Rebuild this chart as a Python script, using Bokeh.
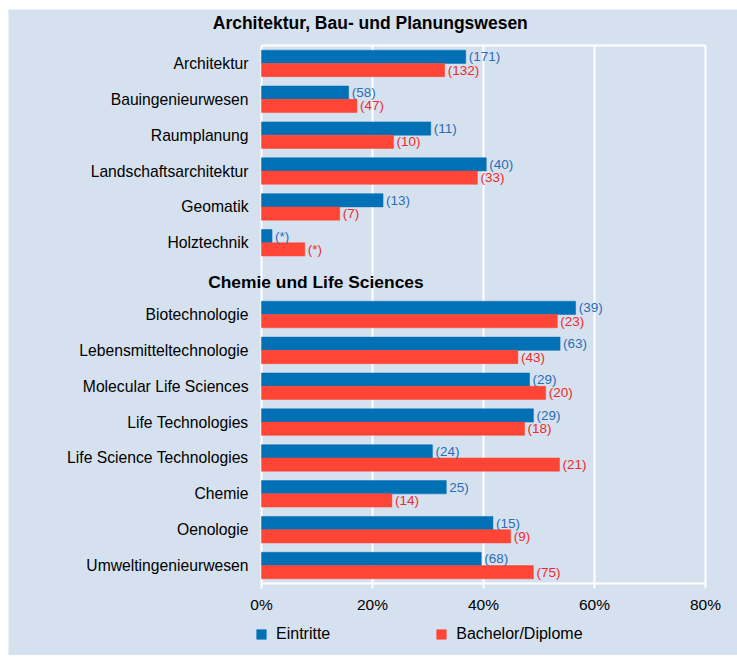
from bokeh.plotting import figure
from bokeh.layouts import row, column, Spacer
from bokeh.models import (ColumnDataSource, Range1d, FixedTicker, PrintfTickFormatter,
                          Label, Legend, LegendItem)
from bokeh.core.properties import value
from bokeh.embed import file_html
from bokeh.resources import INLINE

# ---------------- data ----------------
section_titles = ["Architektur, Bau- und Planungswesen", "Chemie und Life Sciences"]

categories_a = ["Architektur", "Bauingenieurwesen", "Raumplanung",
                "Landschaftsarchitektur", "Geomatik", "Holztechnik"]
categories_b = ["Biotechnologie", "Lebensmitteltechnologie", "Molecular Life Sciences",
                "Life Technologies", "Life Science Technologies", "Chemie",
                "Oenologie", "Umweltingenieurwesen"]

eintritte_a = [36.8, 15.7, 30.5, 40.5, 21.9, 1.9]
bachelor_a = [33.0, 17.2, 23.8, 38.9, 14.1, 7.8]
eintritte_b = [56.6, 53.8, 48.3, 49.0, 30.8, 33.3, 41.7, 39.6]
bachelor_b = [53.3, 46.2, 51.2, 47.4, 53.7, 23.5, 44.9, 49.0]

labels_eintritte_a = ["(171)", "(58)", "(11)", "(40)", "(13)", "(*)"]
labels_bachelor_a = ["(132)", "(47)", "(10)", "(33)", "(7)", "(*)"]
labels_eintritte_b = ["(39)", "(63)", "(29)", "(29)", "(24)", "25)", "(15)", "(68)"]
labels_bachelor_b = ["(23)", "(43)", "(20)", "(18)", "(21)", "(14)", "(9)", "(75)"]

x_ticks = [0, 20, 40, 60, 80]
series_names = ["Eintritte", "Bachelor/Diplome"]

# ---------------- styling ----------------
BG = "#d6e1ef"
BLUE = "#0170b5"
RED = "#ff4536"
BLUE_TXT = "#2a6db5"
RED_TXT = "#ee2a2a"
FONT = "Liberation Sans"

W = 729
H = 646
PLOT_LEFT = 253          # px from canvas left where 0 % sits
PLOT_TOP = 36            # px from canvas top where first slot starts
PLOT_W = 444             # px for 0..80 %
PLOT_H = 538             # px for all slots

# slot layout: section A rows, one header slot, section B rows
n_a = len(categories_a)
n_b = len(categories_b)
ys_a = [i + 0.5 for i in range(n_a)]
header_slot = n_a + 0.5
ys_b = [n_a + 1 + i + 0.5 for i in range(n_b)]
n_slots = n_a + 1 + n_b

categories = categories_a + categories_b
ys = ys_a + ys_b
eintritte = eintritte_a + eintritte_b
bachelor = bachelor_a + bachelor_b
lab_e = labels_eintritte_a + labels_eintritte_b
lab_b = labels_bachelor_a + labels_bachelor_b

xmin, xmax = x_ticks[0], x_ticks[-1]
ppx = PLOT_W / (xmax - xmin)
ppy = PLOT_H / n_slots
x_lo = xmin - PLOT_LEFT / ppx
x_hi = xmin + (W - PLOT_LEFT) / ppx
y_top = -PLOT_TOP / ppy
y_bottom = n_slots + (H - PLOT_TOP - PLOT_H) / ppy

BAR_H = 0.37
OFF = 0.185

src_e = ColumnDataSource(dict(y=[y - OFF for y in ys], right=eintritte, label=lab_e))
src_b = ColumnDataSource(dict(y=[y + OFF for y in ys], right=bachelor, label=lab_b))
src_c = ColumnDataSource(dict(y=ys, name=categories))

p = figure(width=W, height=H,
           x_range=Range1d(x_lo, x_hi),
           y_range=Range1d(y_bottom, y_top),
           output_backend="svg", toolbar_location=None,
           min_border_left=0, min_border_right=0,
           min_border_top=0, min_border_bottom=0)

p.background_fill_color = BG
p.border_fill_color = BG
p.outline_line_color = None
p.grid.visible = False
p.yaxis.visible = False

# white grid lines / frame lines
p.segment(x0=x_ticks[1:], y0=0, x1=x_ticks[1:], y1=n_slots, line_color="white", line_width=2)
p.segment(x0=xmin, y0=0, x1=xmax, y1=0, line_color="white", line_width=2)
p.segment(x0=xmin, y0=0, x1=xmin, y1=n_slots, line_color="white", line_width=2)

r_e = p.hbar(y="y", right="right", left=0, height=BAR_H, source=src_e,
             fill_color=BLUE, line_color=BLUE, line_width=0.5)
r_b = p.hbar(y="y", right="right", left=0, height=BAR_H, source=src_b,
             fill_color=RED, line_color=RED, line_width=0.5)

p.text(x="right", y="y", text="label", source=src_e, x_offset=3,
       text_baseline="middle", text_align="left",
       text_font=value(FONT), text_font_size="13.5px", text_color=BLUE_TXT)
p.text(x="right", y="y", text="label", source=src_b, x_offset=3,
       text_baseline="middle", text_align="left",
       text_font=value(FONT), text_font_size="13.5px", text_color=RED_TXT)

# category labels (left of the 0 % line)
p.text(x=xmin, y="y", text="name", source=src_c, x_offset=-13,
       text_baseline="middle", text_align="right",
       text_font=value(FONT), text_font_size="15.7px", text_color="black")

# x axis, pinned at the bottom of the last slot
p.xaxis.fixed_location = n_slots
p.xaxis.ticker = FixedTicker(ticks=x_ticks)
p.xaxis.bounds = (xmin, xmax)
p.xaxis.formatter = PrintfTickFormatter(format="%d%%")
p.xaxis.axis_line_color = "white"
p.xaxis.axis_line_width = 2
p.xaxis.major_tick_line_color = "white"
p.xaxis.major_tick_line_width = 2
p.xaxis.major_tick_in = 0
p.xaxis.major_tick_out = 5
p.xaxis.minor_tick_line_color = None
p.xaxis.major_label_text_font = FONT
p.xaxis.major_label_text_font_size = "15.5px"
p.xaxis.major_label_text_color = "black"
p.xaxis.major_label_standoff = 7

# section titles
p.add_layout(Label(x=19.6, y=-0.64, text=section_titles[0], text_align="center",
                   text_baseline="middle", text_font=FONT, text_font_style="bold",
                   text_font_size="17.5px", text_color="black"))
p.add_layout(Label(x=9.8, y=header_slot + 0.08, text=section_titles[1], text_align="center",
                   text_baseline="middle", text_font=FONT, text_font_style="bold",
                   text_font_size="17.4px", text_color="black"))

legend = Legend(items=[LegendItem(label=series_names[0], renderers=[r_e]),
                       LegendItem(label=series_names[1], renderers=[r_b])],
                orientation="horizontal", location=(247, 12),
                spacing=105, glyph_width=12, glyph_height=12, label_standoff=9,
                label_text_font=FONT, label_text_font_size="16px",
                label_text_color="black", label_height=12,
                background_fill_alpha=0, border_line_alpha=0, padding=0, margin=0)
p.add_layout(legend, "center")

layout = row(Spacer(width=8, height=9 + H),
             column(Spacer(width=W, height=9), p))

open("out.html", "w").write(file_html(layout, INLINE))
